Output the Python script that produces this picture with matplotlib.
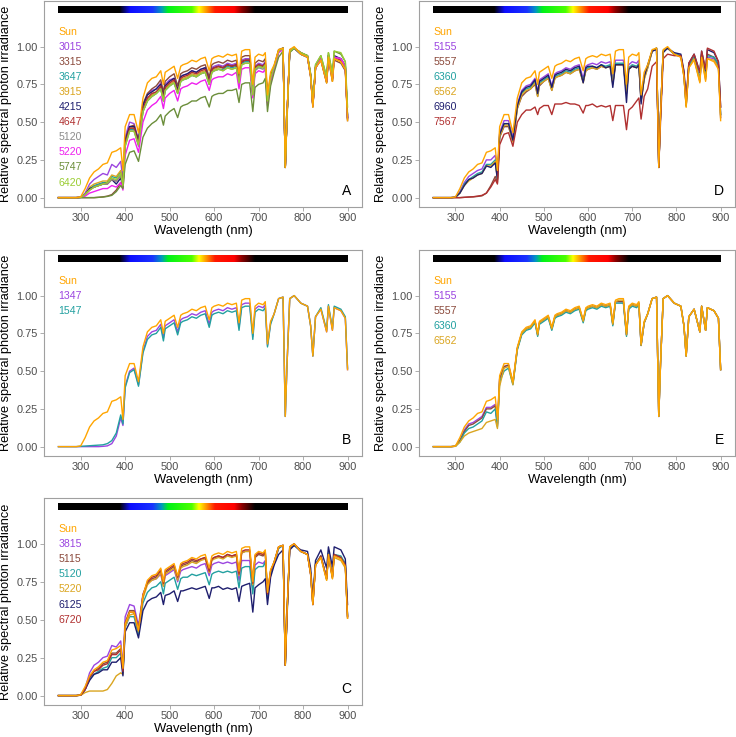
import numpy as np
import matplotlib
matplotlib.use("Agg")
import matplotlib.pyplot as plt

plt.rcParams['font.family'] = ['Liberation Sans', 'DejaVu Sans']

# ---------------- data ----------------
wavelength = [250, 260, 270, 280, 290, 300, 310, 320, 330, 340,
              350, 360, 370, 380, 390, 395, 400, 410, 420, 430,
              440, 450, 460, 470, 480, 486, 490, 500, 510, 518,
              525, 530, 540, 550, 560, 570, 580, 589, 595, 600,
              610, 620, 630, 640, 650, 656, 662, 670, 680, 687,
              692, 700, 710, 715, 720, 727,
              735, 745, 755, 760, 764, 770, 780, 795, 810, 817,
              822, 828, 840, 853, 857, 866, 870, 885, 895, 900]

sun = [0, 0, 0, 0, 0, 0.005, 0.06, 0.13, 0.17, 0.19,
       0.22, 0.23, 0.30, 0.31, 0.33, 0.18, 0.47, 0.55, 0.55, 0.43,
       0.66, 0.76, 0.79, 0.80, 0.84, 0.75, 0.83, 0.85, 0.87, 0.79,
       0.87, 0.88, 0.89, 0.91, 0.90, 0.92, 0.93, 0.84, 0.92, 0.93,
       0.94, 0.93, 0.95, 0.94, 0.95, 0.82, 0.97, 0.98, 0.98, 0.75,
       0.93, 0.95, 0.94, 0.96, 0.68, 0.83,
       0.88, 0.98, 0.99, 0.20, 0.55, 0.98, 1.00, 0.95, 0.93, 0.80,
       0.60, 0.86, 0.91, 0.76, 0.93, 0.77, 0.92, 0.90, 0.85, 0.51]

# Panel A
a_3015 = [0, 0, 0, 0, 0, 0.003, 0.03, 0.09, 0.12, 0.14,
          0.16, 0.15, 0.22, 0.20, 0.24, 0.12, 0.40, 0.50, 0.49, 0.38,
          0.60, 0.68, 0.71, 0.72, 0.76, 0.68, 0.75, 0.78, 0.79, 0.72,
          0.80, 0.81, 0.82, 0.84, 0.83, 0.85, 0.86, 0.78, 0.86, 0.87,
          0.88, 0.87, 0.89, 0.88, 0.89, 0.78, 0.91, 0.92, 0.92, 0.70,
          0.87, 0.89, 0.88, 0.90, 0.65, 0.80,
          0.87, 0.97, 0.99, 0.20, 0.55, 0.97, 0.99, 0.95, 0.94, 0.81,
          0.61, 0.86, 0.92, 0.77, 0.93, 0.78, 0.93, 0.91, 0.86, 0.52]
a_3315 = [0, 0, 0, 0, 0, 0, 0, 0, 0, 0.002,
          0.005, 0.01, 0.02, 0.05, 0.10, 0.07, 0.38, 0.47, 0.48, 0.38,
          0.62, 0.69, 0.72, 0.74, 0.78, 0.70, 0.77, 0.80, 0.82, 0.74,
          0.82, 0.83, 0.84, 0.86, 0.85, 0.87, 0.88, 0.80, 0.88, 0.89,
          0.90, 0.89, 0.91, 0.90, 0.91, 0.79, 0.93, 0.94, 0.94, 0.72,
          0.89, 0.91, 0.90, 0.92, 0.66, 0.81,
          0.87, 0.98, 0.99, 0.20, 0.55, 0.98, 0.99, 0.95, 0.93, 0.80,
          0.60, 0.86, 0.91, 0.76, 0.92, 0.77, 0.91, 0.89, 0.84, 0.51]
a_3647 = [0, 0, 0, 0, 0, 0.002, 0.02, 0.06, 0.08, 0.09,
          0.10, 0.10, 0.14, 0.13, 0.17, 0.09, 0.35, 0.45, 0.45, 0.35,
          0.57, 0.64, 0.67, 0.69, 0.72, 0.64, 0.71, 0.74, 0.76, 0.69,
          0.77, 0.78, 0.79, 0.81, 0.80, 0.82, 0.83, 0.75, 0.83, 0.84,
          0.85, 0.85, 0.87, 0.86, 0.87, 0.76, 0.89, 0.90, 0.90, 0.68,
          0.85, 0.87, 0.86, 0.88, 0.63, 0.78,
          0.86, 0.97, 0.99, 0.20, 0.55, 0.97, 0.99, 0.95, 0.93, 0.81,
          0.61, 0.86, 0.92, 0.77, 0.94, 0.79, 0.93, 0.92, 0.87, 0.53]
a_3915 = [0, 0, 0, 0, 0, 0.002, 0.02, 0.07, 0.09, 0.10,
          0.11, 0.11, 0.15, 0.14, 0.18, 0.10, 0.36, 0.46, 0.46, 0.36,
          0.58, 0.65, 0.68, 0.70, 0.73, 0.65, 0.72, 0.75, 0.77, 0.70,
          0.78, 0.79, 0.80, 0.82, 0.81, 0.83, 0.84, 0.76, 0.84, 0.85,
          0.86, 0.86, 0.88, 0.87, 0.88, 0.77, 0.90, 0.91, 0.91, 0.69,
          0.86, 0.88, 0.87, 0.89, 0.64, 0.79,
          0.86, 0.97, 0.99, 0.20, 0.55, 0.97, 0.99, 0.95, 0.93, 0.80,
          0.60, 0.86, 0.91, 0.76, 0.93, 0.77, 0.92, 0.90, 0.85, 0.52]
a_4215 = [0, 0, 0, 0, 0, 0.002, 0.02, 0.06, 0.07, 0.08,
          0.09, 0.10, 0.12, 0.09, 0.13, 0.07, 0.38, 0.47, 0.47, 0.37,
          0.61, 0.68, 0.70, 0.72, 0.75, 0.67, 0.74, 0.77, 0.79, 0.71,
          0.80, 0.81, 0.82, 0.84, 0.83, 0.85, 0.86, 0.77, 0.85, 0.86,
          0.87, 0.86, 0.88, 0.87, 0.88, 0.77, 0.90, 0.91, 0.91, 0.69,
          0.86, 0.88, 0.87, 0.89, 0.64, 0.79,
          0.86, 0.97, 0.99, 0.20, 0.55, 0.97, 0.99, 0.95, 0.93, 0.81,
          0.61, 0.86, 0.92, 0.77, 0.94, 0.79, 0.94, 0.92, 0.87, 0.53]
a_4647 = [0, 0, 0, 0, 0, 0.002, 0.02, 0.05, 0.07, 0.08,
          0.09, 0.09, 0.12, 0.11, 0.15, 0.08, 0.36, 0.46, 0.46, 0.36,
          0.59, 0.66, 0.69, 0.70, 0.74, 0.66, 0.73, 0.76, 0.78, 0.70,
          0.79, 0.80, 0.81, 0.83, 0.82, 0.84, 0.85, 0.77, 0.85, 0.86,
          0.87, 0.86, 0.88, 0.87, 0.88, 0.77, 0.90, 0.91, 0.91, 0.69,
          0.86, 0.88, 0.87, 0.89, 0.64, 0.79,
          0.86, 0.97, 0.99, 0.20, 0.55, 0.97, 0.99, 0.96, 0.94, 0.81,
          0.61, 0.87, 0.92, 0.77, 0.94, 0.79, 0.93, 0.91, 0.86, 0.53]
a_5120 = [0, 0, 0, 0, 0, 0.002, 0.02, 0.05, 0.07, 0.08,
          0.09, 0.09, 0.12, 0.11, 0.15, 0.08, 0.34, 0.44, 0.44, 0.34,
          0.57, 0.64, 0.67, 0.69, 0.72, 0.64, 0.71, 0.74, 0.76, 0.69,
          0.77, 0.78, 0.79, 0.81, 0.80, 0.82, 0.83, 0.75, 0.83, 0.84,
          0.85, 0.84, 0.86, 0.85, 0.86, 0.75, 0.88, 0.89, 0.89, 0.68,
          0.84, 0.86, 0.85, 0.87, 0.63, 0.78,
          0.86, 0.97, 0.99, 0.20, 0.55, 0.97, 0.99, 0.95, 0.93, 0.81,
          0.61, 0.86, 0.92, 0.77, 0.94, 0.79, 0.93, 0.92, 0.87, 0.53]
a_5220 = [0, 0, 0, 0, 0, 0.002, 0.01, 0.03, 0.04, 0.05,
          0.06, 0.06, 0.08, 0.07, 0.10, 0.05, 0.28, 0.38, 0.39, 0.30,
          0.50, 0.58, 0.61, 0.63, 0.67, 0.59, 0.66, 0.69, 0.71, 0.64,
          0.72, 0.73, 0.74, 0.76, 0.75, 0.77, 0.78, 0.71, 0.78, 0.79,
          0.80, 0.80, 0.82, 0.81, 0.83, 0.72, 0.85, 0.86, 0.86, 0.66,
          0.82, 0.84, 0.83, 0.85, 0.61, 0.76,
          0.85, 0.96, 0.98, 0.20, 0.55, 0.97, 0.99, 0.96, 0.93, 0.81,
          0.61, 0.86, 0.92, 0.77, 0.94, 0.79, 0.93, 0.92, 0.87, 0.53]
a_5747 = [0, 0, 0, 0, 0, 0, 0, 0, 0, 0.002,
          0.004, 0.008, 0.015, 0.04, 0.08, 0.06, 0.22, 0.30, 0.31, 0.24,
          0.40, 0.46, 0.49, 0.51, 0.55, 0.48, 0.54, 0.57, 0.59, 0.53,
          0.60, 0.61, 0.62, 0.64, 0.64, 0.66, 0.67, 0.60, 0.67, 0.68,
          0.69, 0.69, 0.71, 0.71, 0.72, 0.63, 0.75, 0.76, 0.76, 0.57,
          0.73, 0.75, 0.76, 0.79, 0.57, 0.74,
          0.83, 0.93, 0.97, 0.20, 0.52, 0.96, 0.99, 0.96, 0.94, 0.82,
          0.62, 0.88, 0.94, 0.80, 0.96, 0.82, 0.97, 0.95, 0.90, 0.55]
a_6420 = [0, 0, 0, 0, 0, 0.002, 0.02, 0.05, 0.07, 0.08,
          0.09, 0.10, 0.13, 0.12, 0.16, 0.08, 0.34, 0.44, 0.44, 0.35,
          0.57, 0.64, 0.67, 0.69, 0.72, 0.64, 0.71, 0.74, 0.76, 0.69,
          0.77, 0.78, 0.79, 0.81, 0.80, 0.82, 0.83, 0.75, 0.83, 0.84,
          0.85, 0.84, 0.86, 0.85, 0.86, 0.76, 0.88, 0.89, 0.89, 0.68,
          0.85, 0.87, 0.86, 0.88, 0.64, 0.79,
          0.87, 0.97, 0.99, 0.20, 0.55, 0.97, 0.99, 0.96, 0.94, 0.82,
          0.62, 0.88, 0.94, 0.80, 0.96, 0.82, 0.97, 0.96, 0.90, 0.60]

# Panel D
d_5155 = [0, 0, 0, 0, 0, 0.003, 0.04, 0.10, 0.14, 0.16,
          0.18, 0.19, 0.25, 0.25, 0.28, 0.15, 0.43, 0.51, 0.51, 0.40,
          0.62, 0.71, 0.74, 0.75, 0.79, 0.70, 0.78, 0.80, 0.82, 0.74,
          0.82, 0.83, 0.84, 0.86, 0.85, 0.87, 0.88, 0.79, 0.87, 0.88,
          0.89, 0.88, 0.90, 0.89, 0.90, 0.78, 0.91, 0.91, 0.91, 0.71,
          0.88, 0.90, 0.89, 0.91, 0.66, 0.80,
          0.87, 0.97, 0.99, 0.20, 0.55, 0.97, 0.99, 0.95, 0.94, 0.81,
          0.61, 0.87, 0.92, 0.77, 0.94, 0.79, 0.93, 0.92, 0.87, 0.53]
d_5557 = [0, 0, 0, 0, 0, 0, 0, 0.002, 0.004, 0.005,
          0.008, 0.012, 0.03, 0.08, 0.14, 0.10, 0.40, 0.47, 0.47, 0.37,
          0.59, 0.67, 0.70, 0.72, 0.75, 0.67, 0.74, 0.77, 0.79, 0.71,
          0.79, 0.80, 0.81, 0.83, 0.82, 0.84, 0.85, 0.77, 0.84, 0.85,
          0.86, 0.85, 0.87, 0.86, 0.87, 0.76, 0.88, 0.88, 0.88, 0.69,
          0.85, 0.87, 0.86, 0.88, 0.64, 0.79,
          0.86, 0.97, 0.99, 0.20, 0.55, 0.97, 0.99, 0.95, 0.94, 0.81,
          0.61, 0.87, 0.93, 0.78, 0.95, 0.80, 0.95, 0.93, 0.88, 0.55]
d_6360 = [0, 0, 0, 0, 0, 0.003, 0.03, 0.09, 0.12, 0.14,
          0.16, 0.17, 0.22, 0.22, 0.25, 0.13, 0.41, 0.49, 0.49, 0.38,
          0.60, 0.69, 0.72, 0.73, 0.77, 0.68, 0.76, 0.78, 0.80, 0.72,
          0.80, 0.81, 0.82, 0.84, 0.83, 0.85, 0.86, 0.77, 0.85, 0.86,
          0.87, 0.86, 0.88, 0.87, 0.88, 0.76, 0.89, 0.89, 0.89, 0.70,
          0.86, 0.88, 0.87, 0.89, 0.65, 0.79,
          0.87, 0.97, 0.99, 0.20, 0.55, 0.97, 0.99, 0.95, 0.94, 0.81,
          0.61, 0.87, 0.93, 0.78, 0.95, 0.80, 0.94, 0.93, 0.88, 0.55]
d_6562 = [0, 0, 0, 0, 0, 0.003, 0.03, 0.08, 0.11, 0.13,
          0.15, 0.16, 0.21, 0.21, 0.24, 0.12, 0.40, 0.48, 0.48, 0.37,
          0.59, 0.68, 0.71, 0.72, 0.76, 0.67, 0.75, 0.77, 0.79, 0.71,
          0.79, 0.80, 0.81, 0.83, 0.82, 0.84, 0.85, 0.76, 0.84, 0.85,
          0.86, 0.85, 0.87, 0.86, 0.87, 0.75, 0.88, 0.88, 0.88, 0.69,
          0.85, 0.87, 0.86, 0.88, 0.64, 0.78,
          0.86, 0.97, 0.99, 0.20, 0.55, 0.97, 0.99, 0.95, 0.93, 0.80,
          0.60, 0.86, 0.92, 0.77, 0.93, 0.78, 0.92, 0.91, 0.86, 0.53]
d_6960 = [0, 0, 0, 0, 0, 0.003, 0.03, 0.08, 0.12, 0.13,
          0.15, 0.16, 0.21, 0.20, 0.23, 0.12, 0.42, 0.49, 0.49, 0.38,
          0.61, 0.70, 0.73, 0.74, 0.78, 0.69, 0.77, 0.79, 0.81, 0.73,
          0.81, 0.82, 0.83, 0.85, 0.84, 0.86, 0.87, 0.76, 0.86, 0.87,
          0.87, 0.86, 0.88, 0.86, 0.87, 0.73, 0.88, 0.88, 0.88, 0.63,
          0.85, 0.87, 0.86, 0.88, 0.62, 0.80,
          0.88, 0.97, 0.98, 0.20, 0.55, 0.96, 0.99, 0.96, 0.95, 0.84,
          0.64, 0.89, 0.95, 0.83, 0.97, 0.84, 0.98, 0.96, 0.90, 0.60]
d_7567 = [0, 0, 0, 0, 0, 0, 0, 0.002, 0.004, 0.006,
          0.01, 0.015, 0.03, 0.07, 0.12, 0.09, 0.35, 0.42, 0.43, 0.34,
          0.50, 0.55, 0.58, 0.58, 0.60, 0.55, 0.59, 0.61, 0.61, 0.55,
          0.62, 0.62, 0.62, 0.63, 0.62, 0.62, 0.61, 0.56, 0.61, 0.61,
          0.62, 0.60, 0.61, 0.60, 0.61, 0.51, 0.61, 0.61, 0.61, 0.45,
          0.58, 0.60, 0.64, 0.66, 0.52, 0.67,
          0.72, 0.87, 0.90, 0.20, 0.50, 0.92, 0.95, 0.94, 0.94, 0.83,
          0.63, 0.89, 0.95, 0.83, 0.97, 0.85, 0.99, 0.97, 0.90, 0.60]

# Panel B
b_1347 = [0, 0, 0, 0, 0, 0, 0, 0, 0, 0,
          0.002, 0.005, 0.02, 0.07, 0.19, 0.14, 0.40, 0.50, 0.52, 0.41,
          0.63, 0.73, 0.76, 0.77, 0.81, 0.72, 0.80, 0.82, 0.84, 0.76,
          0.84, 0.85, 0.86, 0.88, 0.87, 0.89, 0.90, 0.81, 0.89, 0.90,
          0.91, 0.90, 0.92, 0.91, 0.92, 0.79, 0.94, 0.95, 0.95, 0.73,
          0.91, 0.93, 0.92, 0.94, 0.67, 0.82,
          0.88, 0.98, 0.99, 0.20, 0.55, 0.98, 1.00, 0.95, 0.93, 0.80,
          0.60, 0.86, 0.91, 0.76, 0.93, 0.77, 0.92, 0.90, 0.85, 0.51]
b_1547 = [0, 0, 0, 0, 0, 0.002, 0.004, 0.006, 0.008, 0.01,
          0.012, 0.02, 0.04, 0.09, 0.21, 0.15, 0.39, 0.49, 0.51, 0.40,
          0.62, 0.71, 0.74, 0.75, 0.79, 0.70, 0.78, 0.80, 0.82, 0.74,
          0.82, 0.83, 0.84, 0.86, 0.85, 0.87, 0.88, 0.79, 0.87, 0.88,
          0.89, 0.88, 0.90, 0.89, 0.90, 0.77, 0.92, 0.93, 0.93, 0.71,
          0.89, 0.91, 0.90, 0.92, 0.66, 0.81,
          0.88, 0.98, 0.99, 0.20, 0.55, 0.98, 1.00, 0.95, 0.93, 0.80,
          0.60, 0.86, 0.92, 0.77, 0.94, 0.78, 0.93, 0.91, 0.86, 0.52]

# Panel E
e_5155 = [0, 0, 0, 0, 0, 0.003, 0.04, 0.11, 0.15, 0.16,
          0.18, 0.20, 0.26, 0.26, 0.28, 0.15, 0.45, 0.53, 0.54, 0.42,
          0.65, 0.75, 0.78, 0.79, 0.83, 0.74, 0.82, 0.84, 0.86, 0.78,
          0.86, 0.87, 0.88, 0.90, 0.89, 0.91, 0.92, 0.83, 0.91, 0.92,
          0.93, 0.92, 0.94, 0.93, 0.94, 0.81, 0.96, 0.96, 0.96, 0.74,
          0.92, 0.94, 0.93, 0.95, 0.67, 0.82,
          0.88, 0.98, 0.99, 0.20, 0.55, 0.98, 1.00, 0.95, 0.93, 0.80,
          0.60, 0.86, 0.91, 0.76, 0.93, 0.77, 0.92, 0.90, 0.85, 0.51]
e_5557 = [0, 0, 0, 0, 0, 0.003, 0.04, 0.10, 0.14, 0.15,
          0.17, 0.19, 0.25, 0.25, 0.27, 0.14, 0.45, 0.53, 0.54, 0.42,
          0.65, 0.75, 0.78, 0.79, 0.83, 0.74, 0.82, 0.84, 0.86, 0.78,
          0.86, 0.87, 0.88, 0.90, 0.89, 0.91, 0.92, 0.83, 0.91, 0.92,
          0.93, 0.92, 0.94, 0.93, 0.94, 0.81, 0.96, 0.96, 0.96, 0.74,
          0.92, 0.94, 0.93, 0.95, 0.67, 0.82,
          0.88, 0.98, 0.99, 0.20, 0.55, 0.98, 1.00, 0.95, 0.93, 0.80,
          0.60, 0.86, 0.91, 0.76, 0.93, 0.77, 0.92, 0.90, 0.85, 0.51]
e_6360 = [0, 0, 0, 0, 0, 0.003, 0.03, 0.09, 0.12, 0.13,
          0.15, 0.17, 0.23, 0.22, 0.25, 0.13, 0.43, 0.50, 0.52, 0.41,
          0.64, 0.74, 0.77, 0.78, 0.82, 0.73, 0.81, 0.83, 0.85, 0.77,
          0.85, 0.86, 0.87, 0.89, 0.88, 0.90, 0.91, 0.82, 0.90, 0.91,
          0.92, 0.91, 0.93, 0.92, 0.93, 0.80, 0.95, 0.95, 0.95, 0.73,
          0.91, 0.93, 0.92, 0.94, 0.67, 0.82,
          0.88, 0.98, 0.99, 0.20, 0.55, 0.98, 1.00, 0.95, 0.93, 0.80,
          0.60, 0.86, 0.91, 0.76, 0.93, 0.77, 0.92, 0.90, 0.85, 0.51]
e_6562 = [0, 0, 0, 0, 0, 0.002, 0.03, 0.07, 0.09, 0.10,
          0.11, 0.12, 0.16, 0.17, 0.18, 0.12, 0.40, 0.52, 0.53, 0.41,
          0.65, 0.75, 0.78, 0.79, 0.83, 0.74, 0.82, 0.84, 0.86, 0.78,
          0.86, 0.87, 0.88, 0.90, 0.89, 0.91, 0.92, 0.83, 0.91, 0.92,
          0.93, 0.92, 0.94, 0.93, 0.94, 0.81, 0.96, 0.97, 0.97, 0.74,
          0.92, 0.94, 0.93, 0.95, 0.67, 0.82,
          0.88, 0.98, 0.99, 0.20, 0.55, 0.98, 1.00, 0.95, 0.93, 0.80,
          0.60, 0.86, 0.91, 0.76, 0.93, 0.77, 0.92, 0.90, 0.85, 0.51]

# Panel C
c_3815 = [0, 0, 0, 0, 0, 0.004, 0.05, 0.15, 0.20, 0.22,
          0.25, 0.26, 0.33, 0.32, 0.36, 0.20, 0.52, 0.60, 0.59, 0.46,
          0.67, 0.74, 0.76, 0.77, 0.80, 0.72, 0.79, 0.81, 0.83, 0.75,
          0.82, 0.83, 0.84, 0.85, 0.84, 0.86, 0.87, 0.79, 0.86, 0.87,
          0.88, 0.87, 0.88, 0.87, 0.88, 0.76, 0.89, 0.89, 0.89, 0.70,
          0.86, 0.88, 0.87, 0.89, 0.65, 0.80,
          0.87, 0.97, 0.99, 0.20, 0.55, 0.97, 0.99, 0.95, 0.93, 0.80,
          0.60, 0.86, 0.92, 0.77, 0.93, 0.78, 0.92, 0.91, 0.86, 0.52]
c_5115 = [0, 0, 0, 0, 0, 0.003, 0.04, 0.12, 0.16, 0.18,
          0.21, 0.22, 0.28, 0.28, 0.31, 0.17, 0.48, 0.56, 0.56, 0.44,
          0.66, 0.74, 0.77, 0.78, 0.82, 0.73, 0.81, 0.83, 0.85, 0.77,
          0.85, 0.86, 0.87, 0.89, 0.88, 0.90, 0.91, 0.82, 0.90, 0.91,
          0.92, 0.91, 0.93, 0.92, 0.93, 0.80, 0.94, 0.95, 0.95, 0.73,
          0.91, 0.93, 0.92, 0.94, 0.67, 0.82,
          0.88, 0.98, 0.99, 0.20, 0.55, 0.98, 1.00, 0.95, 0.93, 0.80,
          0.60, 0.86, 0.92, 0.77, 0.93, 0.78, 0.93, 0.91, 0.86, 0.52]
c_5120 = [0, 0, 0, 0, 0, 0.003, 0.04, 0.11, 0.14, 0.16,
          0.18, 0.19, 0.25, 0.25, 0.28, 0.15, 0.45, 0.52, 0.52, 0.40,
          0.61, 0.68, 0.71, 0.72, 0.75, 0.67, 0.74, 0.76, 0.78, 0.70,
          0.77, 0.78, 0.78, 0.80, 0.79, 0.80, 0.81, 0.73, 0.80, 0.81,
          0.82, 0.81, 0.82, 0.81, 0.82, 0.71, 0.84, 0.85, 0.85, 0.67,
          0.83, 0.85, 0.85, 0.88, 0.64, 0.80,
          0.87, 0.97, 0.99, 0.20, 0.55, 0.97, 0.99, 0.95, 0.93, 0.81,
          0.61, 0.87, 0.92, 0.77, 0.94, 0.79, 0.93, 0.92, 0.87, 0.53]
c_5220 = [0, 0, 0, 0, 0, 0.002, 0.02, 0.03, 0.03, 0.03,
          0.03, 0.04, 0.08, 0.13, 0.15, 0.14, 0.45, 0.53, 0.54, 0.42,
          0.64, 0.73, 0.76, 0.77, 0.81, 0.72, 0.80, 0.82, 0.84, 0.76,
          0.84, 0.85, 0.86, 0.88, 0.87, 0.89, 0.90, 0.81, 0.89, 0.90,
          0.91, 0.90, 0.92, 0.91, 0.92, 0.79, 0.94, 0.95, 0.95, 0.73,
          0.92, 0.94, 0.93, 0.95, 0.67, 0.82,
          0.88, 0.98, 0.99, 0.20, 0.55, 0.98, 1.00, 0.95, 0.93, 0.80,
          0.60, 0.86, 0.91, 0.76, 0.92, 0.77, 0.91, 0.89, 0.84, 0.51]
c_6125 = [0, 0, 0, 0, 0, 0.003, 0.04, 0.10, 0.14, 0.15,
          0.17, 0.17, 0.22, 0.22, 0.25, 0.13, 0.42, 0.48, 0.48, 0.38,
          0.56, 0.62, 0.64, 0.65, 0.68, 0.60, 0.66, 0.67, 0.69, 0.62,
          0.69, 0.69, 0.70, 0.71, 0.70, 0.71, 0.72, 0.64, 0.71, 0.71,
          0.72, 0.70, 0.71, 0.70, 0.71, 0.62, 0.72, 0.73, 0.74, 0.55,
          0.71, 0.73, 0.75, 0.77, 0.60, 0.78,
          0.86, 0.93, 0.96, 0.20, 0.52, 0.96, 0.99, 0.96, 0.95, 0.84,
          0.64, 0.89, 0.96, 0.84, 0.98, 0.85, 0.98, 0.96, 0.90, 0.60]
c_6720 = [0, 0, 0, 0, 0, 0.003, 0.04, 0.12, 0.16, 0.17,
          0.20, 0.21, 0.27, 0.27, 0.30, 0.16, 0.47, 0.55, 0.55, 0.43,
          0.66, 0.75, 0.78, 0.79, 0.83, 0.74, 0.82, 0.84, 0.86, 0.78,
          0.86, 0.87, 0.88, 0.90, 0.89, 0.90, 0.91, 0.82, 0.90, 0.91,
          0.92, 0.91, 0.93, 0.92, 0.93, 0.80, 0.95, 0.96, 0.96, 0.74,
          0.92, 0.94, 0.93, 0.95, 0.67, 0.82,
          0.88, 0.98, 0.99, 0.20, 0.55, 0.98, 1.00, 0.95, 0.93, 0.80,
          0.60, 0.86, 0.92, 0.77, 0.93, 0.78, 0.93, 0.91, 0.86, 0.52]

labels_A = ["3015", "3315", "3647", "3915", "4215", "4647", "5120", "5220", "5747", "6420"]
labels_D = ["5155", "5557", "6360", "6562", "6960", "7567"]
labels_B = ["1347", "1547"]
labels_E = ["5155", "5557", "6360", "6562"]
labels_C = ["3815", "5115", "5120", "5220", "6125", "6720"]

# ---------------- style ----------------
SUN_COL = "#FFA500"
PALETTE = ["#9B45E0", "#8B4A3C", "#22A0A0", "#DAA520", "#1E1E6E",
           "#B03030", "#8C8C8C", "#EE1FEE", "#6B8E3A", "#9ACD32"]
COLS_B = ["#9B45E0", "#22A0A0"]

panels = [
    ("A", [a_3015, a_3315, a_3647, a_3915, a_4215, a_4647, a_5120, a_5220, a_5747, a_6420],
     labels_A, PALETTE, (44, 1, 362, 207)),
    ("D", [d_5155, d_5557, d_6360, d_6562, d_6960, d_7567],
     labels_D, PALETTE[:6], (419, 1, 735, 207)),
    ("B", [b_1347, b_1547], labels_B, COLS_B, (44, 250, 362, 456)),
    ("E", [e_5155, e_5557, e_6360, e_6562], labels_E, PALETTE[:4], (419, 250, 735, 456)),
    ("C", [c_3815, c_5115, c_5120, c_5220, c_6125, c_6720],
     labels_C, PALETTE[:6], (44, 498, 362, 705)),
]

# spectrum colour bar
stops_nm = [250, 388, 412, 462, 482, 497, 550, 566, 582, 602, 645, 662, 692, 900]
stops_rgb = [(0, 0, 0), (0, 0, 0), (0.05, 0.05, 1.0), (0.1, 0.2, 1.0), (0.0, 0.6, 0.75),
             (0.0, 0.95, 0.1), (0.3, 1.0, 0.0), (1.0, 1.0, 0.0), (1.0, 0.6, 0.0),
             (1.0, 0.1, 0.0), (1.0, 0.0, 0.0), (0.55, 0.0, 0.0), (0, 0, 0), (0, 0, 0)]
grid_nm = np.linspace(250, 900, 651)
rgb = np.stack([np.interp(grid_nm, stops_nm, [c[i] for c in stops_rgb]) for i in range(3)], axis=-1)
bar_img = rgb[np.newaxis, :, :]

W, H = 736, 737
fig = plt.figure(figsize=(W / 100, H / 100), dpi=100)

tick_col = "#4D4D4D"
frame_col = "#A0A0A0"

for letter, series, labels, cols, (x0, y0, x1, y1) in panels:
    ax = fig.add_axes([x0 / W, 1 - y1 / H, (x1 - x0) / W, (y1 - y0) / H])
    for s, c in zip(series, cols):
        ax.plot(wavelength, s, color=c, lw=1.0, solid_joinstyle='round')
    ax.plot(wavelength, sun, color=SUN_COL, lw=1.0, solid_joinstyle='round')
    ax.imshow(bar_img, extent=[250, 900, 1.220, 1.260], aspect='auto',
              interpolation='bilinear', zorder=3)
    ax.text(250, 1.10, "Sun", color=SUN_COL, fontsize=7.6, ha='left', va='center')
    for i, (lab, c) in enumerate(zip(labels, cols)):
        ax.text(250, 1.0 - 0.1 * i, lab, color=c, fontsize=7.6, ha='left', va='center')
    ax.text(897, 0.045, letter, fontsize=10, ha='center', va='center', color='black')
    ax.set_xlim(217.5, 932.5)
    ax.set_ylim(-0.062, 1.302)
    ax.set_xticks([300, 400, 500, 600, 700, 800, 900])
    ax.set_yticks([0, 0.25, 0.5, 0.75, 1.0])
    ax.set_yticklabels(["0.00", "0.25", "0.50", "0.75", "1.00"])
    ax.tick_params(axis='both', length=3, width=0.6, color=frame_col,
                   labelsize=7.9, labelcolor=tick_col, pad=1.5)
    for sp in ax.spines.values():
        sp.set_color(frame_col)
        sp.set_linewidth(0.8)
    ax.set_xlabel("Wavelength (nm)", fontsize=9.4, labelpad=1)
    ax.set_ylabel("Relative spectral photon irradiance", fontsize=9.2, labelpad=3)

fig.savefig("out.png", dpi=100)
